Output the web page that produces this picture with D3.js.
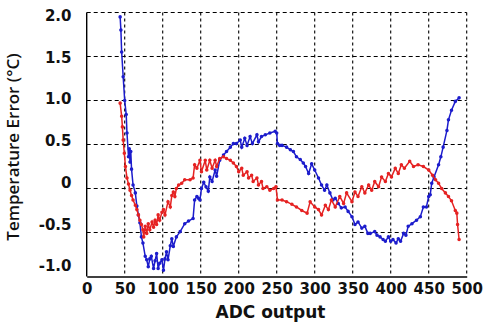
<!DOCTYPE html>
<html>
<head>
<meta charset="utf-8">
<script src="https://cdn.jsdelivr.net/npm/d3@7"></script>
<style>
  html, body { margin: 0; padding: 0; background: #fff; }
  svg { display: block; }
  .tick-label { font-family: "DejaVu Sans", Verdana, sans-serif; font-weight: bold; font-size: 15px; fill: #111; }
</style>
</head>
<body>
<svg id="chart" width="489" height="324"></svg>
<script>
// ---- data ----
const xTicks = [0, 50, 100, 150, 200, 250, 300, 350, 400, 450, 500];
const yTicks = [-1.0, -0.5, 0, 0.5, 1.0, 1.5, 2.0];
const yTickLabels = ["-1.0", "-0.5", "0", "0.5", "1.0", "1.5", "2.0"];

const blueX = [44,45,46,48,50,52,53,55,56,57,58,59,61,64,66,68,70,72,74,77,79,81,83,85,88,90,92,94,96,99,101,103,105,107,110,112,114,118,123,129,134,140,142,145,147,149,151,154,157,160,162,165,169,171,175,180,184,189,193,197,202,204,208,211,215,218,224,226,230,235,241,248,250,251,254,257,263,268,272,276,281,285,288,292,296,300,305,309,313,316,320,324,327,331,335,340,344,349,353,357,362,366,370,373,379,382,386,390,393,397,400,403,407,410,413,417,420,423,428,434,439,443,447,450,452,454,457,463,466,469,474,476,480,485,490];
const blueY = [1.95,1.80,1.55,1.27,1.00,0.84,0.63,0.36,0.45,0.30,0.42,0.22,0.04,-0.05,-0.20,-0.30,-0.39,-0.55,-0.62,-0.77,-0.81,-0.89,-0.80,-0.77,-0.91,-0.82,-0.74,-0.91,-0.85,-0.81,-0.93,-0.80,-0.72,-0.81,-0.65,-0.57,-0.66,-0.55,-0.49,-0.40,-0.37,-0.34,-0.13,-0.09,-0.11,-0.13,0.00,0.07,0.02,-0.03,0.13,0.08,0.21,0.14,0.32,0.38,0.42,0.47,0.51,0.51,0.55,0.47,0.57,0.49,0.59,0.51,0.61,0.53,0.59,0.61,0.63,0.65,0.63,0.51,0.49,0.49,0.47,0.44,0.42,0.36,0.33,0.29,0.25,0.17,0.28,0.21,0.12,0.04,-0.02,0.04,-0.05,-0.13,-0.11,-0.17,-0.22,-0.21,-0.26,-0.32,-0.41,-0.38,-0.45,-0.43,-0.51,-0.51,-0.49,-0.53,-0.55,-0.58,-0.60,-0.55,-0.60,-0.58,-0.62,-0.57,-0.60,-0.51,-0.53,-0.43,-0.40,-0.36,-0.32,-0.21,-0.21,-0.09,-0.07,0.06,0.13,0.27,0.36,0.47,0.66,0.78,0.89,0.99,1.03];

const redX = [44,46,47,48,49.5,51,53,55,57,59,61,64,66,68,70,72,74,75,77,79,81,83,86,88,90,92,94,96,99,101,103,107,110,112,114,116,118,121,125,129,136,140,142,145,149,151,156,158,162,165,169,171,175,180,184,189,193,197,200,204,206,211,213,217,219,224,226,230,232,237,241,246,249,251,257,263,270,276,283,290,294,300,305,309,314,318,322,327,333,338,342,349,353,357,362,366,371,375,379,384,388,393,397,401,406,410,414,418,425,430,436,443,450,455,459,463,467,472,476,480,485,487,488,490];
const redY = [0.97,0.82,0.70,0.55,0.40,0.25,0.12,0.05,-0.02,-0.08,-0.13,-0.19,-0.24,-0.30,-0.36,-0.41,-0.47,-0.55,-0.43,-0.51,-0.40,-0.47,-0.38,-0.44,-0.36,-0.41,-0.30,-0.36,-0.27,-0.24,-0.30,-0.15,-0.21,-0.08,-0.04,-0.09,0.00,0.04,0.06,0.10,0.10,0.12,0.27,0.23,0.32,0.19,0.32,0.21,0.32,0.23,0.32,0.25,0.34,0.36,0.34,0.32,0.29,0.25,0.19,0.23,0.15,0.19,0.12,0.15,0.08,0.12,0.04,0.08,0.00,0.02,-0.02,0.00,0.02,-0.13,-0.13,-0.15,-0.18,-0.21,-0.25,-0.28,-0.15,-0.21,-0.24,-0.30,-0.19,-0.24,-0.13,-0.21,-0.09,-0.17,-0.05,-0.15,-0.04,-0.09,0.02,-0.05,0.04,-0.02,0.08,0.02,0.13,0.08,0.17,0.13,0.23,0.17,0.27,0.23,0.31,0.25,0.27,0.25,0.21,0.15,0.10,0.06,0.00,-0.05,-0.09,-0.14,-0.25,-0.28,-0.41,-0.58];

const series = [
  { name: "blue", xs: blueX, ys: blueY, color: "#1c1ccc" },
  { name: "red",  xs: redX,  ys: redY,  color: "#e52222" }
];

// ---- layout ----
const svg = d3.select("#chart");
const x = d3.scaleLinear().domain([0, 500]).range([86.7, 466.7]);
const y = d3.scaleLinear().domain([-1, 2]).range([276.5, 12.5]);
// tick label placement in the reference is slightly compressed relative to the grid
const yLab = d3.scaleLinear().domain([-1, 2]).range([266, 15.5]);

// grid (dashed)
const grid = svg.append("g");
grid.selectAll("line.v").data(xTicks.filter(d => d > 0)).join("line")
  .attr("x1", d => x(d)).attr("x2", d => x(d))
  .attr("y1", y(2)).attr("y2", y(-1))
  .attr("stroke", "#000").attr("stroke-width", 1.1)
  .attr("stroke-dasharray", "3,3");
grid.selectAll("line.h").data(yTicks.filter(d => d > -1)).join("line")
  .attr("x1", x(0)).attr("x2", x(500))
  .attr("y1", d => y(d)).attr("y2", d => y(d))
  .attr("stroke", "#000").attr("stroke-width", 1.1)
  .attr("stroke-dasharray", "4,3");

// solid axes (left & bottom)
const xAxis = d3.axisBottom(x).tickValues(xTicks).tickSize(0).tickFormat(d3.format("d"));
const gx = svg.append("g").attr("transform", `translate(0,${y(-1)})`).call(xAxis);
gx.select(".domain").attr("stroke", "#000").attr("stroke-width", 1.4);
gx.selectAll(".tick text").attr("class", "tick-label").attr("dy", null).attr("y", 17)
  .attr("font-family", null).attr("font-size", null);

const gy = svg.append("g").attr("transform", `translate(${x(0)},0)`);
gy.append("line").attr("x1", 0).attr("x2", 0).attr("y1", y(2)).attr("y2", y(-1))
  .attr("stroke", "#000").attr("stroke-width", 1.4);
gy.selectAll("text").data(yTicks).join("text")
  .attr("class", "tick-label")
  .attr("x", 71.5 - x(0))
  .attr("y", d => yLab(d))
  .attr("dy", "0.36em")
  .attr("text-anchor", "end")
  .text((d, i) => yTickLabels[i]);

// series
const line = d3.line().x(d => x(d[0])).y(d => y(d[1]));
series.forEach(s => {
  const pts = s.xs.map((v, i) => [v, s.ys[i]]);
  const g = svg.append("g");
  g.append("path").datum(pts).attr("d", line)
    .attr("fill", "none").attr("stroke", s.color).attr("stroke-width", 1.5);
  g.selectAll("path.m").data(pts).join("path")
    .attr("class", "m")
    .attr("transform", d => `translate(${x(d[0])},${y(d[1])})`)
    .attr("d", d3.symbol().type(d3.symbolCircle).size(10))
    .attr("fill", s.color);
});

// axis titles
svg.append("text")
  .attr("x", 270.5).attr("y", 318)
  .attr("text-anchor", "middle")
  .attr("font-family", "DejaVu Sans, Verdana, sans-serif")
  .attr("font-weight", "bold").attr("font-size", 17)
  .attr("fill", "#111")
  .text("ADC output");

svg.append("text")
  .attr("transform", "translate(19,147) rotate(-90)")
  .attr("text-anchor", "middle")
  .attr("font-family", "Open Sans, sans-serif")
  .attr("font-weight", 600).attr("font-size", 17)
  .attr("fill", "#111")
  .text("Temperature Error (°C)");
</script>
</body>
</html>
